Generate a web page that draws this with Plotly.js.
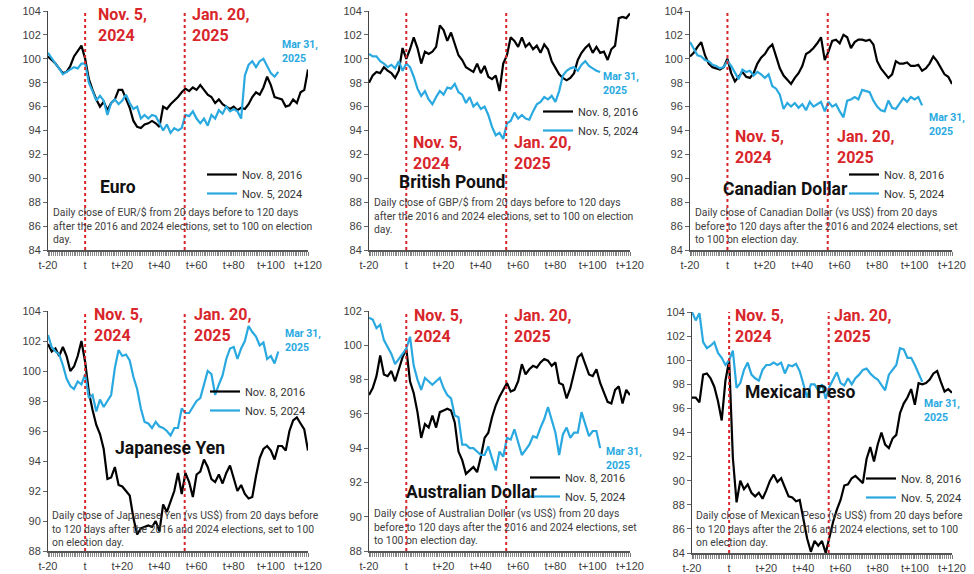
<!DOCTYPE html>
<html><head><meta charset="utf-8">
<script src="https://cdn.plot.ly/plotly-3.0.1.min.js"></script>
<style>html,body{margin:0;padding:0;background:#fff}#chart{width:974px;height:574px}</style>
</head><body><div id="chart"></div>
<script>
// ---- data ----
const DAYS_2016 = [-20,-18,-16,-14,-12,-10,-8,-6,-4,-2,0,2,4,6,8,10,12,14,16,18,20,22,24,26,28,30,32,34,36,38,40,42,44,46,48,50,52,54,56,58,60,62,64,66,68,70,72,74,76,78,80,82,84,86,88,90,92,94,96,98,100,102,104,106,108,110,112,114,116,118,120];
const DAYS_2024 = [-20,-18,-16,-14,-12,-10,-8,-6,-4,-2,0,2,4,6,8,10,12,14,16,18,20,22,24,26,28,30,32,34,36,38,40,42,44,46,48,50,52,54,56,58,60,62,64,66,68,70,72,74,76,78,80,82,84,86,88,90,92,94,96,98,100,102,104];

const EUR_2016 = [100.2,99.9,99.6,99.2,98.8,98.9,99.4,100.2,100.6,101.1,
 100.0,98.3,97.4,96.6,96.0,96.4,95.7,96.3,96.6,97.4,
 97.4,96.7,95.9,94.8,94.3,94.2,94.5,94.6,94.8,94.6,
 94.3,96.0,95.8,96.2,96.5,96.8,97.2,97.5,97.3,97.6,
 97.4,97.8,97.4,97.0,96.8,96.3,96.6,96.2,96.0,95.8,
 96.0,95.7,95.9,95.8,96.2,96.8,97.2,97.0,97.6,98.5,
 97.8,96.8,96.7,96.6,96.0,96.1,96.6,96.3,97.2,97.4,
 99.1];
const EUR_2024 = [100.5,100.0,99.6,99.2,98.7,98.9,99.1,99.3,99.2,99.6,
 99.6,98.0,97.3,96.5,96.9,96.5,95.3,96.3,96.6,96.2,
 96.5,97.0,96.3,95.8,96.0,95.0,95.3,95.0,95.3,95.2,
 94.6,94.0,94.5,93.8,94.2,94.0,94.2,95.3,95.2,95.6,
 95.0,94.6,95.0,94.4,95.3,95.0,95.7,95.4,96.0,95.6,
 95.8,95.6,95.0,98.6,99.5,99.8,99.3,99.8,100.0,99.4,
 98.8,98.5,98.9];

const GBP_2016 = [98.0,98.6,98.9,98.8,99.3,99.0,98.8,98.4,99.0,100.9,
 100.0,100.8,101.8,100.9,99.6,100.6,100.4,100.6,101.0,102.8,
 102.4,101.5,102.2,101.3,100.3,99.9,99.3,99.1,98.9,99.6,
 98.8,99.4,98.5,98.3,98.6,97.3,99.6,100.3,101.8,101.5,
 101.0,101.8,101.0,101.3,100.8,101.1,100.5,101.2,100.8,99.8,
 99.2,98.7,98.4,98.2,98.4,98.8,99.9,100.5,100.9,101.2,
 100.5,101.0,100.5,100.6,99.9,100.8,101.1,103.4,103.5,103.4,
 103.8];
const GBP_2024 = [100.4,100.2,100.2,99.8,99.6,99.3,99.5,99.2,99.8,99.0,
 99.6,99.3,98.5,97.5,96.9,97.3,96.6,96.2,96.8,97.3,
 97.0,97.6,97.5,97.9,97.2,97.0,96.3,96.8,96.0,96.3,
 95.8,96.0,95.3,94.3,93.6,93.8,93.3,94.6,94.8,95.5,
 95.0,95.3,95.0,94.9,95.6,96.2,96.4,96.8,96.6,96.9,
 96.4,97.3,98.6,99.0,99.2,99.3,99.0,99.5,99.8,99.4,
 99.2,99.0,98.9];

const CAD_2016 = [100.2,100.5,101.0,101.4,100.3,99.6,99.3,99.2,99.1,99.3,
 100.0,98.8,98.1,98.5,98.9,98.5,98.4,98.8,99.6,100.1,
 100.4,100.9,101.2,100.2,99.2,98.6,98.2,97.9,98.4,98.8,
 99.4,100.4,100.6,100.9,101.3,101.8,99.9,100.6,101.5,101.6,
 101.3,102.0,101.8,100.9,101.4,101.6,101.6,101.5,101.6,101.2,
 99.8,99.2,98.8,98.4,98.7,99.8,99.6,99.6,99.7,99.4,
 99.4,99.5,99.0,99.2,99.6,100.2,99.8,99.2,98.7,98.5,
 97.9];
const CAD_2024 = [101.4,100.8,100.3,100.2,99.9,99.8,99.5,99.4,99.2,99.3,
 99.8,99.4,98.9,98.3,99.1,98.9,99.0,98.6,98.9,98.7,
 98.4,98.7,97.7,97.5,97.0,95.8,96.3,96.0,96.3,95.9,
 96.2,95.7,96.4,96.0,96.2,96.4,95.6,96.4,96.0,96.2,
 95.6,95.1,96.5,96.6,96.8,96.6,97.4,97.3,97.2,96.5,
 96.0,95.7,95.6,96.5,95.9,95.8,96.2,96.7,96.4,96.8,
 96.6,96.8,96.1];

const JPY_2016 = [101.8,101.3,101.5,101.0,101.6,101.0,100.0,100.3,101.0,102.0,
 100.6,98.6,97.4,96.4,95.8,94.8,92.8,92.9,93.6,92.4,
 92.3,92.0,91.7,90.2,89.1,89.5,89.6,89.7,89.6,90.0,
 89.3,91.1,90.6,91.3,92.0,93.2,91.8,93.2,92.6,91.6,
 93.1,93.3,94.1,93.6,92.8,92.6,93.1,92.5,93.2,93.7,
 92.8,92.0,92.4,91.8,91.5,91.6,93.0,94.2,94.8,95.0,
 94.7,94.1,95.0,95.0,94.7,96.0,96.7,96.9,96.5,96.1,
 94.7];
const JPY_2024 = [102.4,101.6,101.3,101.1,100.4,99.5,99.0,98.8,99.3,99.1,
 99.8,98.2,98.4,97.3,98.1,97.6,98.0,98.4,100.2,101.4,
 101.0,101.1,100.7,99.6,98.8,97.5,96.6,96.5,96.2,96.6,
 96.3,96.2,96.0,95.7,96.2,96.2,97.5,97.2,97.2,97.6,
 98.0,98.2,99.1,100.0,99.8,98.4,99.1,99.7,100.8,101.5,
 101.6,100.8,101.5,102.0,103.0,102.6,102.3,101.7,101.9,100.8,
 101.0,100.5,101.3];

const AUD_2016 = [97.1,97.5,98.2,99.4,98.3,98.2,98.5,97.9,98.6,99.3,
 99.8,97.9,97.2,96.1,94.6,95.4,95.2,95.9,95.2,96.1,
 96.2,96.3,96.2,95.5,93.8,93.3,92.5,92.7,92.9,92.6,
 93.5,94.6,94.9,95.8,96.5,97.0,97.4,97.8,97.3,97.4,
 97.9,98.9,98.3,98.6,98.8,98.7,99.0,99.2,99.1,98.8,
 99.0,97.8,97.7,96.9,97.5,98.4,99.3,99.5,98.9,98.3,
 98.2,98.6,97.8,97.2,96.7,96.6,97.4,97.6,96.6,97.4,
 97.1];
const AUD_2024 = [101.6,101.5,101.0,101.2,100.3,99.9,99.5,98.9,99.2,99.5,
 99.8,100.5,98.8,98.0,97.4,98.1,97.9,97.7,97.9,98.1,
 97.5,97.1,96.9,95.9,95.8,94.2,94.2,94.0,94.0,93.8,
 93.6,93.6,94.1,93.4,92.7,93.8,93.5,94.6,94.5,95.1,
 94.4,93.6,93.9,94.2,94.7,94.6,95.2,95.7,96.4,95.6,
 94.9,93.6,94.8,95.2,94.6,94.9,94.9,96.1,95.4,94.7,
 95.0,95.0,94.0];

const MXN_2016 = [96.9,96.9,96.5,98.8,98.9,98.5,97.8,96.6,95.0,98.3,
 100.0,91.9,88.2,90.0,89.3,89.7,89.0,88.7,89.0,88.5,
 89.2,90.0,90.5,89.9,90.2,89.4,88.7,88.6,88.3,88.4,
 86.9,85.2,84.1,85.0,84.6,85.0,84.0,85.4,86.6,87.6,
 88.4,89.6,89.7,90.2,90.4,90.1,89.8,91.8,92.8,91.6,
 93.0,94.0,93.0,92.7,93.5,93.8,95.6,96.4,96.9,97.6,
 96.3,98.1,98.0,98.1,98.4,98.9,99.1,98.2,97.4,97.6,
 97.3];
const MXN_2024 = [104.0,103.3,103.9,101.5,101.0,101.2,101.5,100.6,100.2,99.6,
 100.0,100.8,97.7,98.1,99.2,99.8,98.8,98.5,98.3,99.2,
 99.6,99.6,99.8,99.6,99.8,98.9,99.6,99.5,99.7,99.1,
 98.0,96.9,98.0,98.0,97.5,98.0,96.8,97.8,98.4,99.0,
 98.1,97.9,98.5,98.0,98.5,98.8,99.2,99.3,98.9,98.6,
 98.4,98.0,97.5,98.8,99.2,99.6,101.0,100.9,100.2,100.2,
 99.6,98.9,98.2];

const CURRENCIES = ['Euro','British Pound','Canadian Dollar','Japanese Yen','Australian Dollar','Mexican Peso'];
const SERIES_NAMES = ['Nov. 8, 2016','Nov. 5, 2024'];
const DESCRIPTIONS = [
 'Daily close of EUR/$ from 20 days before to 120 days<br>after the 2016 and 2024 elections, set to 100 on election<br>day.',
 'Daily close of GBP/$ from 20 days before to 120 days<br>after the 2016 and 2024 elections, set to 100 on election<br>day.',
 'Daily close of Canadian Dollar (vs US$) from 20 days<br>before to 120 days after the 2016 and 2024 elections, set<br>to 100 on election day.',
 'Daily close of Japanese Yen (vs US$) from 20 days before<br>to 120 days after the 2016 and 2024 elections, set to 100<br>on election day.',
 'Daily close of Australian Dollar (vs US$) from 20 days<br>before to 120 days after the 2016 and 2024 elections, set<br>to 100 on election day.',
 'Daily close of Mexican Peso (vs US$) from 20 days before<br>to 120 days after the 2016 and 2024 elections, set to 100<br>on election day.'
];
const TICK_VALS = [-20,0,20,40,60,80,100,120];
const TICK_TEXT = ['t-20','t','t+20','t+40','t+60','t+80','t+100','t+120'];
const EVENT_DAYS = [0, 53.6];
const EVENT_LABELS = ['Nov. 5,<br>2024','Jan. 20,<br>2025'];
const END_LABEL = 'Mar 31,<br>2025';
const Y_RANGES = [[84,104],[84,104],[84,104],[88,104],[88,102],[84,104]];

const DATA_2016 = [EUR_2016, GBP_2016, CAD_2016, JPY_2016, AUD_2016, MXN_2016];
const DATA_2024 = [EUR_2024, GBP_2024, CAD_2024, JPY_2024, AUD_2024, MXN_2024];

// ---- layout (pixel geometry) ----
const W = 974, H = 574;
const px = x => x / W, py = y => 1 - y / H;
const FONT = 'Roboto, "Liberation Sans", Arial, sans-serif';
const TFONT = '"Liberation Sans", Arial, sans-serif';
const RED = '#d8262b', BLUE = '#29a9e0', BLACK = '#000000';

const PANELS = [
 {x0:48,x1:308,y0:11,y1:250, nov:[96,24.5], jan:[190,24.5], mar:[280,51.5], title:[98,187], desc:[51,226], leg:[242,175]},
 {x0:369,x1:630,y0:11,y1:250, nov:[411,153], jan:[512,153], mar:[601,83], title:[397,182], desc:[372,216], leg:[578,112]},
 {x0:690,x1:952,y0:11,y1:250, nov:[733,147], jan:[835,147], mar:[927,124.5], title:[721,189], desc:[693,226], leg:[884,175]},
 {x0:48,x1:308,y0:311,y1:551, nov:[92,325], jan:[192,325], mar:[283,340], title:[113,448], desc:[50,529], leg:[245,392]},
 {x0:369,x1:630,y0:311,y1:551, nov:[412,326], jan:[512,326], mar:[604,458], title:[404,492], desc:[372,527], leg:[565,478]},
 {x0:692,x1:952,y0:312,y1:553, nov:[733,326], jan:[832,326], mar:[922,410], title:[743,392], desc:[694,529], leg:[901,479]}
];

const traces = [], annotations = [], shapes = [];
const layout = {
  width: W, height: H, margin: {l:0, r:0, t:0, b:0},
  paper_bgcolor: '#fff', plot_bgcolor: 'rgba(0,0,0,0)',
  font: {family: FONT, color: '#333'},
  showlegend: true, annotations, shapes
};

PANELS.forEach((p, i) => {
  const s = i === 0 ? '' : String(i + 1);
  const xr = 'x' + s, yr = 'y' + s, lg = 'legend' + s;
  traces.push({x: DAYS_2016, y: DATA_2016[i], type: 'scatter', mode: 'lines', name: SERIES_NAMES[0],
    line: {color: BLACK, width: 2.2}, xaxis: xr, yaxis: yr, legend: lg, hoverinfo: 'skip'});
  traces.push({x: DAYS_2024, y: DATA_2024[i], type: 'scatter', mode: 'lines', name: SERIES_NAMES[1],
    line: {color: BLUE, width: 2.2}, xaxis: xr, yaxis: yr, legend: lg, hoverinfo: 'skip'});

  layout['xaxis' + s] = {
    domain: [px(p.x0), px(p.x1)], anchor: yr, range: [-20, 120], fixedrange: true,
    showgrid: false, zeroline: false, showline: true, linecolor: '#555', linewidth: 1.5,
    tickmode: 'array', tickvals: TICK_VALS, ticktext: TICK_TEXT,
    ticks: 'outside', ticklen: 4, tickcolor: '#777', tickwidth: 1,
    minor: {tickmode: 'linear', tick0: -20, dtick: 1, ticks: 'outside', ticklen: 4, tickcolor: '#888', tickwidth: 1, showgrid: false},
    tickfont: {family: TFONT, size: 11, color: '#404040'}
  };
  layout['yaxis' + s] = {
    domain: [py(p.y1), py(p.y0)], anchor: xr, range: Y_RANGES[i], dtick: 2, fixedrange: true,
    showgrid: false, zeroline: false, showline: true, linecolor: '#444', linewidth: 1,
    ticks: 'outside', ticklen: 4, tickcolor: '#666',
    tickfont: {family: TFONT, size: 11, color: '#404040'}
  };
  layout[lg] = {
    x: px(p.leg[0] - 40), y: py(p.leg[1] - 15), xanchor: 'left', yanchor: 'top',
    bgcolor: 'rgba(0,0,0,0)', borderwidth: 0, itemwidth: 30, traceorder: 'normal',
    font: {family: FONT, size: 11, color: '#333'}
  };

  EVENT_DAYS.forEach(d => shapes.push({
    type: 'line', xref: xr, yref: yr + ' domain', x0: d, x1: d, y0: 0, y1: 1,
    line: {color: RED, width: 2, dash: 'dot'}, layer: 'above'
  }));

  const ann = (pos, text, font) => annotations.push({
    xref: 'paper', yref: 'paper', x: px(pos[0]), y: py(pos[1]), xanchor: 'left', yanchor: 'middle',
    align: 'left', showarrow: false, text, font
  });
  ann(p.nov, '<b>' + EVENT_LABELS[0] + '</b>', {family: FONT, size: 16, color: RED});
  ann(p.jan, '<b>' + EVENT_LABELS[1] + '</b>', {family: FONT, size: 16, color: RED});
  ann(p.mar, '<b>' + END_LABEL + '</b>', {family: FONT, size: 10.5, color: BLUE});
  ann(p.title, '<b>' + CURRENCIES[i] + '</b>', {family: FONT, size: 17.5, color: '#111'});
  ann(p.desc, DESCRIPTIONS[i], {family: FONT, size: 10.4, color: '#404040'});
});

Plotly.newPlot('chart', traces, layout, {staticPlot: true, displayModeBar: false});
</script>
</body></html>
